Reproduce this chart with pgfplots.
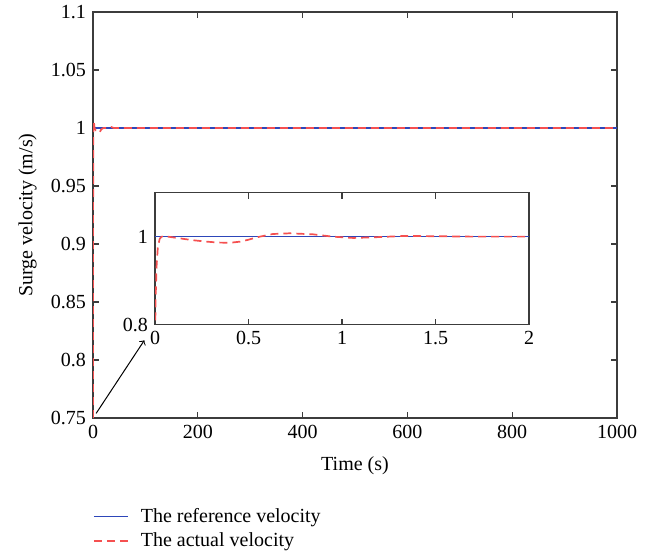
\documentclass[border=0pt]{standalone}
\usepackage{fontspec}
\setmainfont{Liberation Serif}
\usepackage{pgfplots}
\pgfplotsset{compat=1.18}
\definecolor{refblue}{RGB}{45,70,185}
\definecolor{actred}{RGB}{245,80,80}
\definecolor{axgray}{RGB}{60,60,60}
\pgfplotsset{
  mystyle/.style={
    scale only axis,
    axis line style={axgray, line width=0.6pt},
    every tick/.style={axgray, line width=0.6pt},
    major tick length=3pt,
    tick align=inside,
    /pgf/number format/assume math mode=true,
    /pgf/number format/1000 sep={},
    tick label style={font=\rmfamily},
    axis background/.style={fill=white},
  }
}
\begin{document}
\begin{tikzpicture}
\path[use as bounding box] (-46.5pt,-67.5pt) rectangle (281.5pt,209pt);
\begin{axis}[
  mystyle,
  at={(0,0)}, anchor=south west,
  width=262pt, height=203pt,
  xmin=0, xmax=1000, ymin=0.75, ymax=1.1,
  xtick={0,200,400,600,800,1000},
  xticklabels={0,200,400,600,800,1000},
  ytick={0.75,0.8,0.85,0.9,0.95,1,1.05,1.1},
  yticklabels={0.75,0.8,0.85,0.9,0.95,1,1.05,1.1},
  xlabel={Time (s)},
  ylabel={Surge velocity (m/s)},
  xlabel style={at={(axis description cs:0.5,-0.118)}, anchor=center},
  ylabel style={at={(axis description cs:-0.125,0.5)}, anchor=center},
  legend style={at={(0,-0.215)}, anchor=north west, draw=none, fill=none,
    inner sep=0pt, outer sep=0pt, row sep=0.5pt,
    nodes={inner sep=1.5pt},
    /tikz/every odd column/.append style={column sep=4.5pt}},
  legend cell align=left,
]
\addplot[refblue, line width=0.6pt] coordinates {(0,1) (1000,1)};
\addlegendentry{The reference velocity}
\addplot[actred, line width=0.85pt, dash pattern=on 4pt off 2.5pt] coordinates {
(0,0.75) (0.3,0.95) (0.6,1.0) (1.5,1.006) (3,1.0) (5,0.998) (8,0.998) (10,0.9965)
(13,0.9965) (16,0.999) (20,1.0) (30,1.0) (35,1.0008) (40,1.0) (400,1.0) (1000,1.0)};
\addlegendentry{The actual velocity}
\draw[->, black, line width=0.5pt] (axis cs:6,0.754) -- (axis cs:98,0.817);
\end{axis}
\begin{axis}[
  mystyle,
  at={(31pt,46.75pt)}, anchor=south west,
  width=187pt, height=65.9pt,
  xmin=0, xmax=2, ymin=0.8, ymax=1.1,
  xtick={0,0.5,1,1.5,2},
  xticklabels={0,0.5,1,1.5,2},
  ytick={0.8,1},
  yticklabels={0.8,1},
]
\addplot[refblue, line width=0.6pt] coordinates {(0,1) (2,1)};
\addplot[actred, line width=0.85pt, dash pattern=on 4pt off 2.5pt] coordinates {
(0,0.75) (0.003,0.85) (0.008,0.93) (0.015,0.975) (0.025,0.995) (0.035,1.0)
(0.06,1.0005) (0.134,0.996) (0.2,0.992) (0.276,0.9886) (0.34,0.9865) (0.40,0.986)
(0.455,0.9886) (0.5,0.993) (0.544,0.9985) (0.63,1.006) (0.72,1.0076) (0.845,1.0053)
(0.95,1.0) (1.06,0.997) (1.17,0.9985) (1.33,1.0015) (1.5,1.001) (1.7,1.0) (2,1.0)};
\end{axis}
\end{tikzpicture}
\end{document}
